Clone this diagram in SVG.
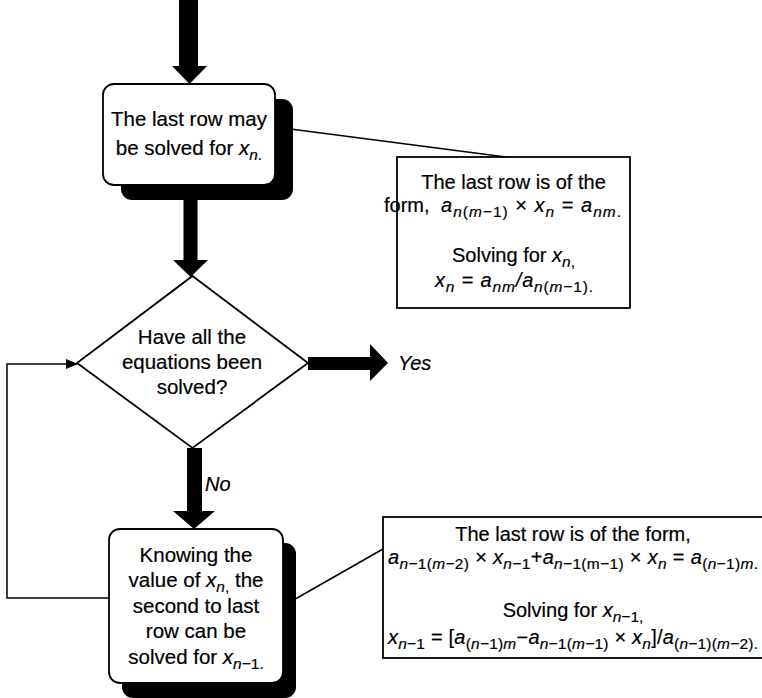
<svg xmlns="http://www.w3.org/2000/svg" width="762" height="698" viewBox="0 0 762 698">
<style>
.t{font-family:"Liberation Sans",Arial,Helvetica,sans-serif;font-size:20px;fill:#000;stroke:#000;stroke-width:0.2}
.n{font-size:20.5px}
.m{text-anchor:middle}
.i{font-style:italic}
.s{font-size:15.5px}
.box{fill:#fff;stroke:#000;stroke-width:1.8}
.shadow{fill:#000}
.ln{fill:none;stroke:#000;stroke-width:1.5}
.thick{fill:#000}
</style>
<defs>
<marker id="ah" markerWidth="12" markerHeight="10" refX="11" refY="5" orient="auto" markerUnits="userSpaceOnUse">
<path d="M0,0 L12,5 L0,10 Z" fill="#000"/>
</marker>
</defs>
<rect width="762" height="698" fill="#fff"/>
<g id="connectors">
<polygon class="thick" points="179,0 198,0 198,66 207,66 189.5,84 172,66 179,66"/>
<polygon class="thick" points="183.5,200 197.5,200 197.5,260 208,260 190.5,277 173,260 183.5,260"/>
<polygon class="thick" points="187,448 202,448 202,511 215,511 194,529 173,511 187,511"/>
<polygon class="thick" points="308,357 370,357 370,344 388,363 370,381 370,370 308,370"/>
<text class="t i" x="398" y="370">Yes</text>
<text class="t i" x="205" y="491">No</text>
<line class="ln" x1="275" y1="127" x2="506" y2="157"/>
<line class="ln" x1="283" y1="606" x2="383" y2="549"/>
<polyline class="ln" points="109,598 7,598 7,364 77,364" marker-end="url(#ah)"/>
</g>
<g id="node-solve-last">
<rect class="shadow" x="121" y="99" width="172" height="101" rx="11"/>
<rect class="box" x="103" y="84" width="172" height="101" rx="11"/>
<text class="t n m" x="189" y="126">The last row may</text>
<text class="t n m" x="189" y="155">be solved for <tspan class="i">x</tspan><tspan class="s" dy="5"><tspan class="i">n</tspan>.</tspan></text>
</g>
<g id="note-last-row">
<rect class="box" x="397" y="157" width="233" height="151" stroke-width="1.5"/>
<text class="t m" x="513.5" y="189">The last row is of the</text>
<text class="t" x="384" y="212">form,</text>
<text class="t" x="441" y="212" textLength="180" lengthAdjust="spacing"><tspan class="i">a</tspan><tspan class="s" dy="5"><tspan class="i">n</tspan>(<tspan class="i">m</tspan>−1)</tspan><tspan dy="-5"> × </tspan><tspan class="i">x</tspan><tspan class="s i" dy="5">n</tspan><tspan dy="-5"> = </tspan><tspan class="i">a</tspan><tspan class="s" dy="5"><tspan class="i">nm</tspan>.</tspan></text>
<text class="t m" x="513.5" y="262">Solving for <tspan class="i">x</tspan><tspan class="s" dy="5"><tspan class="i">n</tspan>,</tspan></text>
<text class="t" x="435" y="287" textLength="158" lengthAdjust="spacing"><tspan class="i">x</tspan><tspan class="s i" dy="5">n</tspan><tspan dy="-5"> = </tspan><tspan class="i">a</tspan><tspan class="s i" dy="5">nm</tspan><tspan dy="-5" class="i">/</tspan><tspan class="i">a</tspan><tspan class="s" dy="5"><tspan class="i">n</tspan>(<tspan class="i">m</tspan>−1).</tspan></text>
</g>
<g id="node-decision">
<polygon class="box" points="192.5,276 308,363 192.5,448 77,363" stroke-width="1.5"/>
<text class="t n m" x="192" y="344">Have all the</text>
<text class="t n m" x="192" y="369">equations been</text>
<text class="t n m" x="192" y="394">solved?</text>
</g>
<g id="node-second-last">
<rect class="shadow" x="122" y="543" width="174" height="155" rx="11"/>
<rect class="box" x="109" y="529" width="174" height="154" rx="11"/>
<text class="t n m" x="196" y="562">Knowing the</text>
<text class="t n m" x="196" y="587">value of <tspan class="i">x</tspan><tspan class="s" dy="5"><tspan class="i">n</tspan>,</tspan><tspan dy="-5"> the</tspan></text>
<text class="t n m" x="196" y="613">second to last</text>
<text class="t n m" x="196" y="638">row can be</text>
<text class="t n m" x="196" y="664">solved for <tspan class="i">x</tspan><tspan class="s" dy="5"><tspan class="i">n</tspan>−1.</tspan></text>
</g>
<g id="note-second-last">
<rect class="box" x="383" y="517" width="385" height="141" stroke-width="1.5"/>
<text class="t m" x="573" y="541">The last row is of the form,</text>
<text class="t m" x="573" y="564" textLength="370" lengthAdjust="spacing"><tspan class="i">a</tspan><tspan class="s" dy="5"><tspan class="i">n</tspan>−1(<tspan class="i">m</tspan>−2)</tspan><tspan dy="-5"> × </tspan><tspan class="i">x</tspan><tspan class="s" dy="5"><tspan class="i">n</tspan>−1</tspan><tspan dy="-5">+</tspan><tspan class="i">a</tspan><tspan class="s" dy="5"><tspan class="i">n</tspan>−1(m−1)</tspan><tspan dy="-5"> × </tspan><tspan class="i">x</tspan><tspan class="s i" dy="5">n</tspan><tspan dy="-5"> = </tspan><tspan class="i">a</tspan><tspan class="s" dy="5">(<tspan class="i">n</tspan>−1)<tspan class="i">m</tspan>.</tspan></text>
<text class="t m" x="573" y="617">Solving for <tspan class="i">x</tspan><tspan class="s" dy="5"><tspan class="i">n</tspan>−1,</tspan></text>
<text class="t m" x="573" y="644" textLength="370" lengthAdjust="spacing"><tspan class="i">x</tspan><tspan class="s" dy="5"><tspan class="i">n</tspan>−1</tspan><tspan dy="-5"> = [</tspan><tspan class="i">a</tspan><tspan class="s" dy="5">(<tspan class="i">n</tspan>−1)<tspan class="i">m</tspan></tspan><tspan dy="-5">−</tspan><tspan class="i">a</tspan><tspan class="s" dy="5"><tspan class="i">n</tspan>−1(<tspan class="i">m</tspan>−1)</tspan><tspan dy="-5"> × </tspan><tspan class="i">x</tspan><tspan class="s i" dy="5">n</tspan><tspan dy="-5">]/</tspan><tspan class="i">a</tspan><tspan class="s" dy="5">(<tspan class="i">n</tspan>−1)(<tspan class="i">m</tspan>−2).</tspan></text>
</g>
</svg>
